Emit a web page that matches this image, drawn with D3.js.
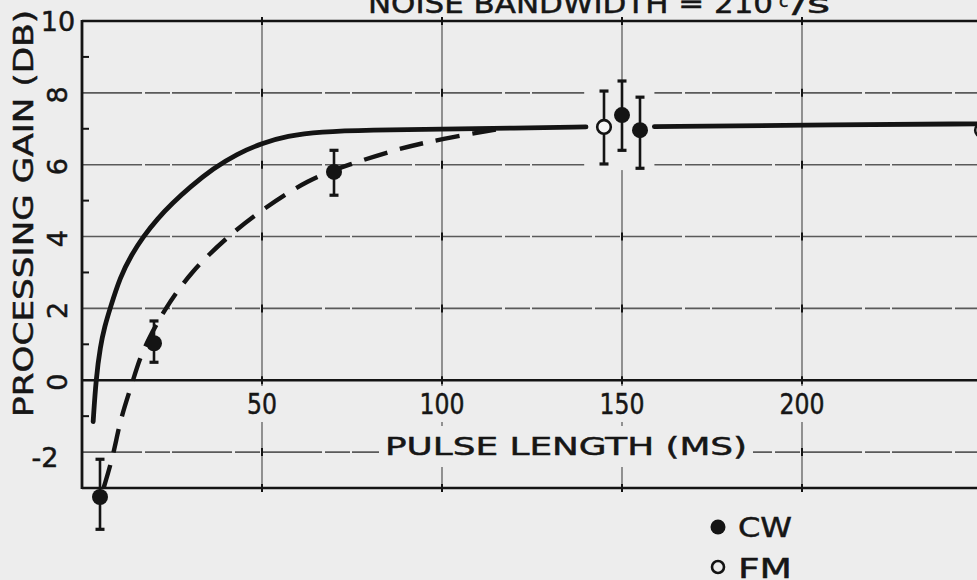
<!DOCTYPE html>
<html>
<head>
<meta charset="utf-8">
<script src="https://cdn.jsdelivr.net/npm/d3@7"></script>
<style>
  html, body { margin: 0; padding: 0; background: #ededed; }
  svg { display: block; }
  text { font-family: "DejaVu Sans", sans-serif; fill: #161616; stroke: #161616; stroke-width: 0.5px; }
</style>
</head>
<body>
<svg id="chart"></svg>
<script>
const w = 977;
const h = 580;

// data
const xTicks = [50, 100, 150, 200];
const yGrid = [8, 6, 4, 2, -2];
const yMinor = [9, 7, 5, 3, 1, -1];
const yTickLabels = [10, 8, 6, 4, 2, 0, -2];
const uprightLabels = [10, -2];

// solid curve, split where the points sit
const solidA = [[3.1, -1.15], [3.9, 0.05], [5.1, 0.95], [6.3, 1.5], [7.8, 2.0], [10.6, 2.88], [13.8, 3.5],
  [17, 4.0], [21, 4.5], [25, 4.92], [30, 5.38], [36.5, 5.9], [43, 6.3], [50, 6.6], [57, 6.8], [66, 6.92],
  [80, 6.97], [100, 6.99], [120, 7.02], [140, 7.05]];
const solidB = [[159, 7.06], [200, 7.1], [250, 7.14]];
// dashed curve
const dashed = [[6, -3.0], [8.7, -2.1], [10.6, -1.1], [13.9, -0.1], [16, 0.6], [18.5, 1.15], [22.5, 1.9], [30, 3.0],
  [41, 4.05], [50, 4.75], [63, 5.6], [74, 6.0], [88, 6.45], [100, 6.72], [115, 6.98]];

// points with error bars
const cwX = [5, 20, 70, 150, 155];
const cwY = [-3.25, 1.03, 5.8, 7.38, 6.96];
const cwLo = [-4.15, 0.5, 5.15, 6.4, 5.9];
const cwHi = [-2.2, 1.65, 6.4, 8.33, 7.88];
const fmX = [145, 250];
const fmY = [7.05, 6.96];
const fmLo = [6.02, 6.0];
const fmHi = [8.05, 7.97];

const svg = d3.select("#chart").attr("width", w).attr("height", h);

const x = d3.scaleLinear().domain([0, 250]).range([82, 982]);
const y = d3.scaleLinear().domain([-3, 10]).range([488, 21]);

const ink = "#141414";
const paper = "#ededed";

const gridLayer = svg.append("g");
const maskLayer = svg.append("g");

// vertical grid
gridLayer.selectAll(".vgrid").data(xTicks).enter().append("line")
  .attr("x1", d => x(d)).attr("x2", d => x(d))
  .attr("y1", y(10)).attr("y2", y(-3))
  .attr("stroke", "#444").attr("stroke-width", 1.1);

// horizontal grid
gridLayer.selectAll(".hgrid").data(yGrid).enter().append("line")
  .attr("x1", x(0)).attr("x2", w)
  .attr("y1", d => y(d)).attr("y2", d => y(d))
  .attr("stroke", "#5a5a5a").attr("stroke-width", 1.6).attr("stroke-dasharray", "60 3 25 2");

// small crosses where grid lines meet
xTicks.forEach(xv => {
  gridLayer.selectAll(null).data(yGrid.concat([0, 10, -3])).enter().append("line")
    .attr("x1", x(xv)).attr("x2", x(xv))
    .attr("y1", d => y(d) - 4).attr("y2", d => y(d) + 4)
    .attr("stroke", ink).attr("stroke-width", 2);
});

// left minor ticks
gridLayer.selectAll(".minor").data(yMinor).enter().append("line")
  .attr("x1", x(0)).attr("x2", x(0) + 7)
  .attr("y1", d => y(d)).attr("y2", d => y(d))
  .attr("stroke", ink).attr("stroke-width", 2);

// frame + zero line
gridLayer.selectAll(".frame").data([10, 0, -3]).enter().append("line")
  .attr("x1", x(0)).attr("x2", w)
  .attr("y1", d => y(d)).attr("y2", d => y(d))
  .attr("stroke", ink).attr("stroke-width", d => d === 0 ? 2.6 : 2.4);
gridLayer.append("line")
  .attr("x1", x(0)).attr("x2", x(0)).attr("y1", y(10) - 1).attr("y2", y(-3) + 1)
  .attr("stroke", ink).attr("stroke-width", 2.8);

const labelLayer = svg.append("g");

// paper-coloured box behind a label so the grid breaks round it
const addMask = (sel, pad) => {
  sel.each(function () {
    const b = this.getBBox();
    maskLayer.append("rect")
      .attr("x", b.x - pad).attr("y", b.y - pad)
      .attr("width", b.width + pad * 2).attr("height", b.height + pad * 2)
      .attr("fill", paper);
  });
};

const xLabels = labelLayer.selectAll(".xlab").data(xTicks).enter().append("text")
  .attr("x", d => x(d)).attr("y", 414)
  .attr("text-anchor", "middle").attr("font-size", 29)
  .attr("textLength", d => String(d).length * 15).attr("lengthAdjust", "spacingAndGlyphs")
  .text(d => d);
addMask(xLabels, 1);

const xTitle = labelLayer.append("text")
  .attr("x", 385).attr("y", 455).attr("font-size", 25)
  .attr("textLength", 362).attr("lengthAdjust", "spacingAndGlyphs")
  .text("PULSE LENGTH (MS)");
addMask(xTitle, 6);

// y labels: most of them are turned with the title, 10 and -2 stand upright
const yLab = labelLayer.selectAll(".ylab").data(yTickLabels).enter().append("g")
  .attr("transform", d => uprightLabels.includes(d)
    ? "translate(" + (d === 10 ? 58 : 45) + "," + (y(d) + (d === 10 ? 10 : 15)) + ")"
    : "translate(67," + (y(d) + 2) + ")");
yLab.append("text")
  .attr("font-size", 27)
  .attr("text-anchor", "middle")
  .attr("transform", d => uprightLabels.includes(d) ? null : "rotate(-90)")
  .text(d => d);

labelLayer.append("text")
  .attr("transform", "translate(33," + ((10 + 417) / 2) + ") rotate(-90)")
  .attr("text-anchor", "middle").attr("font-size", 27)
  .attr("textLength", 407).attr("lengthAdjust", "spacingAndGlyphs")
  .text("PROCESSING GAIN (DB)");

// title (cut off at the top)
labelLayer.append("text").attr("x", 368).attr("y", 13).attr("font-size", 27)
  .attr("textLength", 405).attr("lengthAdjust", "spacingAndGlyphs")
  .text("NOISE BANDWIDTH = 210");
labelLayer.append("text").attr("x", 779).attr("y", 7).attr("font-size", 17).text("c");
labelLayer.append("text").attr("x", 792).attr("y", 13).attr("font-size", 26)
  .attr("textLength", 38).attr("lengthAdjust", "spacingAndGlyphs").text("/s");

// clear the grid behind the cluster of points
maskLayer.append("rect")
  .attr("x", x(139.5)).attr("y", y(8.35))
  .attr("width", x(159) - x(139.5)).attr("height", y(5.85) - y(8.35))
  .attr("fill", paper);

// curves (basis spline smooths out the reading errors)
const line = d3.line().x(d => x(d[0])).y(d => y(d[1])).curve(d3.curveBasis);

const curves = svg.append("g");
[solidA, solidB].forEach(seg => {
  curves.append("path").attr("d", line(seg))
    .attr("fill", "none").attr("stroke", ink).attr("stroke-width", 4.8)
    .attr("stroke-linecap", "round");
});
curves.append("path").attr("d", line(dashed))
  .attr("fill", "none").attr("stroke", ink).attr("stroke-width", 4.4)
  .attr("stroke-dasharray", "24 13");

// error bars + points
const drawPoints = (xs, ys, lo, hi, filled) => {
  const g = svg.append("g");
  const idx = d3.range(xs.length);
  g.selectAll(".bar").data(idx).enter().append("line")
    .attr("x1", i => x(xs[i])).attr("x2", i => x(xs[i]))
    .attr("y1", i => y(hi[i])).attr("y2", i => y(lo[i]))
    .attr("stroke", ink).attr("stroke-width", 2.6);
  [hi, lo].forEach(arr => {
    g.selectAll(null).data(idx).enter().append("line")
      .attr("x1", i => x(xs[i]) - 4.5).attr("x2", i => x(xs[i]) + 4.5)
      .attr("y1", i => y(arr[i])).attr("y2", i => y(arr[i]))
      .attr("stroke", ink).attr("stroke-width", 3.2);
  });
  g.selectAll(".pt").data(idx).enter().append("circle")
    .attr("cx", i => x(xs[i])).attr("cy", i => y(ys[i]))
    .attr("r", filled ? 8 : 6.8)
    .attr("fill", filled ? ink : "#f4f4f4")
    .attr("stroke", ink).attr("stroke-width", filled ? 0 : 2.6);
};
drawPoints(cwX, cwY, cwLo, cwHi, true);
drawPoints(fmX, fmY, fmLo, fmHi, false);

// legend
const legend = svg.append("g");
legend.append("circle").attr("cx", 718).attr("cy", 527).attr("r", 7.5).attr("fill", ink);
legend.append("text").attr("x", 738).attr("y", 537).attr("font-size", 27)
  .attr("textLength", 54).attr("lengthAdjust", "spacingAndGlyphs").text("CW");
legend.append("circle").attr("cx", 718).attr("cy", 567).attr("r", 6)
  .attr("fill", "none").attr("stroke", ink).attr("stroke-width", 2.6);
legend.append("text").attr("x", 738).attr("y", 578).attr("font-size", 27)
  .attr("textLength", 54).attr("lengthAdjust", "spacingAndGlyphs").text("FM");
</script>
</body>
</html>
